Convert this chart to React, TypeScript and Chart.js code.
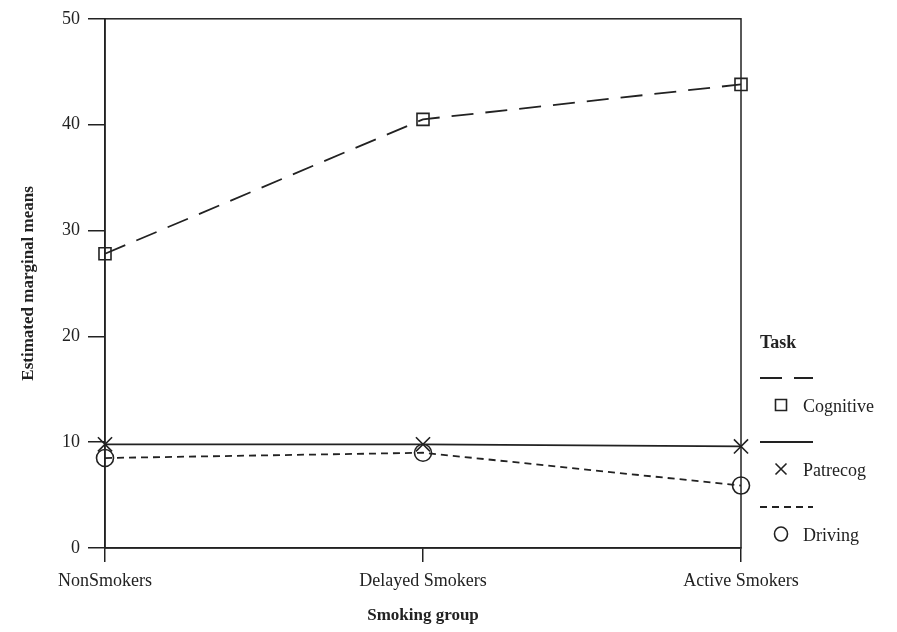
import React, { useEffect, useRef } from "react";
import { Chart, registerables } from "chart.js";

Chart.register(...registerables);

const categories = ["NonSmokers", "Delayed Smokers", "Active Smokers"];
const cognitive = [27.8, 40.5, 43.8];
const patrecog = [9.8, 9.8, 9.6];
const driving = [8.5, 9.0, 5.9];
const yTicks = [0, 10, 20, 30, 40, 50];

const FONT = "'Liberation Serif', 'Times New Roman', serif";

const seriesMeta = [
  { label: "Cognitive", data: cognitive, dash: [22, 12], style: "rect", radius: 8.5 },
  { label: "Patrecog", data: patrecog, dash: [], style: "crossRot", radius: 10 },
  { label: "Driving", data: driving, dash: [7, 5], style: "circle", radius: 8.5 },
];

const framePlugin = {
  id: "frame",
  afterDraw(chart: any) {
    const { ctx, chartArea } = chart;
    ctx.save();
    ctx.strokeStyle = "#222";
    ctx.lineWidth = 1.5;
    ctx.strokeRect(chartArea.left, chartArea.top, chartArea.right - chartArea.left, chartArea.bottom - chartArea.top);
    // legend
    const x0 = chartArea.right + 19;
    ctx.fillStyle = "#222";
    ctx.font = `bold 18px ${FONT}`;
    ctx.textBaseline = "middle";
    ctx.textAlign = "left";
    ctx.fillText("Task", x0, 343);
    const rows = [378, 442, 507];
    seriesMeta.forEach((s, i) => {
      const ly = rows[i];
      ctx.beginPath();
      ctx.setLineDash(s.dash);
      ctx.lineWidth = 1.8;
      ctx.moveTo(x0, ly);
      ctx.lineTo(x0 + 53, ly);
      ctx.stroke();
      ctx.setLineDash([]);
      const my = ly + 27;
      const mx = x0 + 21;
      ctx.lineWidth = 1.6;
      ctx.beginPath();
      if (s.style === "rect") {
        ctx.rect(mx - 5.5, my - 5.5, 11, 11);
      } else if (s.style === "crossRot") {
        ctx.moveTo(mx - 5.5, my - 5.5);
        ctx.lineTo(mx + 5.5, my + 5.5);
        ctx.moveTo(mx + 5.5, my - 5.5);
        ctx.lineTo(mx - 5.5, my + 5.5);
      } else {
        ctx.ellipse(mx, my, 6.5, 7, 0, 0, Math.PI * 2);
      }
      ctx.stroke();
      ctx.font = `18px ${FONT}`;
      ctx.fillText(s.label, x0 + 43, my + 2);
    });
    ctx.restore();
  },
};

export default function App() {
  const ref = useRef<HTMLCanvasElement>(null);
  useEffect(() => {
    if (!ref.current) return;
    const chart = new Chart(ref.current, {
      type: "line",
      data: {
        labels: categories,
        datasets: seriesMeta.map((s) => ({
          label: s.label,
          data: s.data,
          borderColor: "#222",
          borderWidth: 1.8,
          borderDash: s.dash,
          pointStyle: s.style as any,
          pointRadius: s.radius,
          pointBorderColor: "#222",
          pointBorderWidth: 1.6,
          pointBackgroundColor: "rgba(0,0,0,0)",
          tension: 0,
          fill: false,
        })),
      },
      options: {
        animation: false,
        responsive: false,
        layout: { padding: { top: 18, right: 156, left: 0, bottom: 0 } },
        plugins: { legend: { display: false }, tooltip: { enabled: false } },
        scales: {
          x: {
            type: "category",
            offset: false,
            grid: { display: true, drawOnChartArea: false, drawTicks: true, tickLength: 14, color: "#222", lineWidth: 1.5 },
            border: { display: true, color: "#222", width: 1.5 },
            ticks: { color: "#222", font: { family: FONT, size: 18 }, padding: 8, maxRotation: 0, autoSkip: false },
            title: { display: true, text: "Smoking group", color: "#222", font: { family: FONT, size: 17, weight: "bold" }, padding: { top: 10, bottom: 6 } },
            afterFit(scale: any) { scale.height = 84; },
          },
          y: {
            min: 0,
            max: 50,
            afterBuildTicks(scale: any) { scale.ticks = yTicks.map((v) => ({ value: v })); },
            grid: { display: true, drawOnChartArea: false, drawTicks: true, tickLength: 17, color: "#222", lineWidth: 1.5 },
            border: { display: true, color: "#222", width: 1.5 },
            ticks: { color: "#222", font: { family: FONT, size: 18 }, padding: 8 },
            title: { display: true, text: "Estimated marginal means", color: "#222", font: { family: FONT, size: 17, weight: "bold" }, padding: { top: 18, bottom: 10 } },
            afterFit(scale: any) { scale.width = 105; },
          },
        },
      },
      plugins: [framePlugin],
    });
    return () => chart.destroy();
  }, []);
  return (
    <div style={{ position: "fixed", left: 0, top: 0, width: 897, height: 632, background: "#fff" }}>
      <canvas ref={ref} width={897} height={632} style={{ width: 897, height: 632 }} />
    </div>
  );
}
